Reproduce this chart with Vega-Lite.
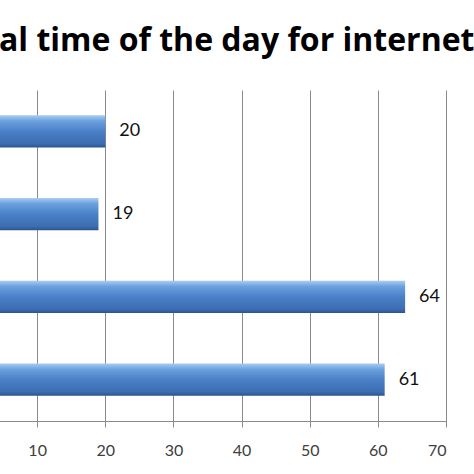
{
  "$schema": "https://vega.github.io/schema/vega-lite/v6.json",
  "autosize": "none",
  "width": 477,
  "height": 331,
  "padding": {"left": -31, "top": 90, "right": 28, "bottom": 53},
  "background": "white",
  "title": {
    "text": "al time of the day for internet",
    "anchor": "start",
    "frame": "group",
    "dx": 30,
    "offset": 32,
    "font": "Open Sans",
    "fontSize": 32,
    "fontWeight": "bold",
    "color": "#000000"
  },
  "config": {"view": {"stroke": null}},
  "data": {
    "values": [
      {"period": "Morning", "value": 20},
      {"period": "Afternoon", "value": 19},
      {"period": "Evening", "value": 64},
      {"period": "Night", "value": 61}
    ]
  },
  "encoding": {
    "y": {
      "field": "period",
      "type": "nominal",
      "sort": null,
      "axis": null,
      "scale": {"paddingInner": 0.61, "paddingOuter": 0.305}
    },
    "x": {
      "field": "value",
      "type": "quantitative",
      "scale": {"domain": [0, 70], "nice": false},
      "axis": {
        "title": null,
        "values": [10, 20, 30, 40, 50, 60, 70],
        "grid": true,
        "gridColor": "#8a8a8a",
        "gridOpacity": 1,
        "domainColor": "#8a8a8a",
        "tickColor": "#8a8a8a",
        "tickSize": 6,
        "labelFont": "Lato",
        "labelFontSize": 16,
        "labelColor": "#404040",
        "labelPadding": 15
      }
    }
  },
  "layer": [
    {
      "mark": {
        "type": "bar",
        "color": {
          "gradient": "linear",
          "x1": 0, "y1": 0, "x2": 0, "y2": 1,
          "stops": [
            {"offset": 0, "color": "#a8cdf3"},
            {"offset": 0.18, "color": "#6ba1de"},
            {"offset": 0.5, "color": "#4a80c7"},
            {"offset": 0.88, "color": "#3c6db2"},
            {"offset": 1, "color": "#2a548d"}
          ]
        }
      }
    },
    {
      "mark": {
        "type": "text",
        "align": "left",
        "baseline": "middle",
        "dx": 14,
        "font": "Lato",
        "fontSize": 18,
        "color": "#111111"
      },
      "encoding": {"text": {"field": "value", "type": "quantitative"}}
    }
  ]
}
